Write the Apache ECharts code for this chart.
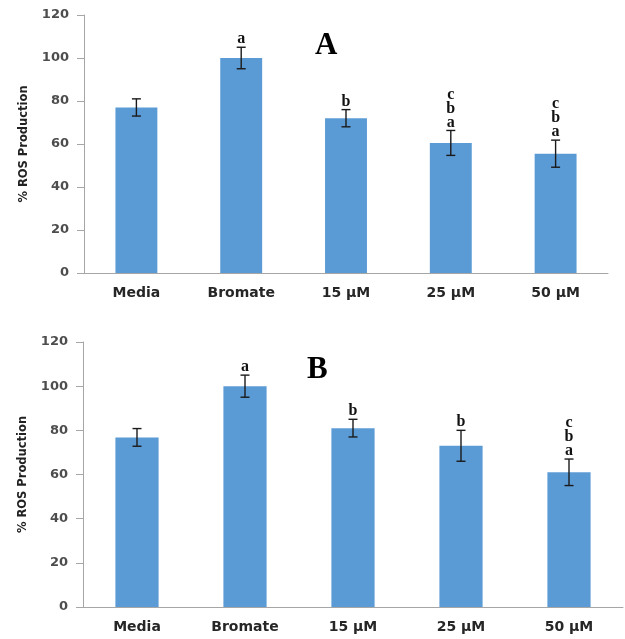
<!DOCTYPE html>
<html>
<head>
<meta charset="utf-8">
<script src="https://cdn.jsdelivr.net/npm/echarts@6/dist/echarts.min.js"></script>
<style>html,body{margin:0;padding:0;background:#fff;}#c{width:625px;height:639px;}</style>
</head>
<body>
<div id="c"></div>
<script>
const categories = ['Media', 'Bromate', '15 µM', '25 µM', '50 µM'];
const valuesA = [77, 100, 72, 60.5, 55.5];
const errorsA = [4, 5, 4, 5.8, 6.3];
const lettersA = ['', 'a', 'b', 'c\nb\na', 'c\nb\na'];
const valuesB = [76.8, 100, 81, 73, 61];
const errorsB = [4, 5, 4, 7, 6];
const lettersB = ['', 'a', 'b', 'b', 'c\nb\na'];
const yMin = 0, yMax = 120, yStep = 20;
const yTitle = '% ROS Production';
const panelTitles = ['A', 'B'];

const chart = echarts.init(document.getElementById('c'), null, {renderer: 'canvas'});
const axisGray = '#a6a6a6';
const sansFont = 'DejaVu Sans';

function errSeries(idx, vals, errs, letters) {
  return {
    type: 'custom', xAxisIndex: idx, yAxisIndex: idx, clip: false, z: 5,
    data: vals.map((v, i) => [i, v, errs[i]]),
    renderItem: function (params, api) {
      const x = api.value(0), v = api.value(1), e = api.value(2);
      const top = api.coord([x, v + e]);
      const bot = api.coord([x, v - e]);
      const cap = 4.5;
      const st = {stroke: '#1a1a1a', lineWidth: 1.4};
      const children = [
        {type: 'line', shape: {x1: top[0], y1: top[1], x2: bot[0], y2: bot[1]}, style: st},
        {type: 'line', shape: {x1: top[0] - cap, y1: top[1], x2: top[0] + cap, y2: top[1]}, style: st},
        {type: 'line', shape: {x1: bot[0] - cap, y1: bot[1], x2: bot[0] + cap, y2: bot[1]}, style: st}
      ];
      const lab = letters[params.dataIndex];
      if (lab) {
        children.push({type: 'text', style: {
          text: lab, x: top[0], y: top[1] - 1, align: 'center', verticalAlign: 'bottom',
          fontFamily: 'Liberation Serif', fontWeight: 'bold', fontSize: 16, lineHeight: 14, fill: '#111'
        }});
      }
      return {type: 'group', children: children};
    }
  };
}

function mkY(idx) {
  return {
    type: 'value', gridIndex: idx, min: yMin, max: yMax, interval: yStep,
    name: yTitle, nameLocation: 'middle', nameGap: 54, nameRotate: 90,
    nameTextStyle: {fontFamily: sansFont, fontWeight: 'bold', fontSize: 11.5, color: '#222'},
    axisLine: {show: true, lineStyle: {color: axisGray, width: 1}},
    axisTick: {show: true, length: 7, lineStyle: {color: axisGray}},
    axisLabel: {fontFamily: sansFont, fontWeight: 'bold', fontSize: 13, color: '#4d4d4d', margin: 15},
    splitLine: {show: false}
  };
}
function mkX(idx) {
  return {
    type: 'category', gridIndex: idx, data: categories,
    axisLine: {show: true, lineStyle: {color: axisGray, width: 1}},
    axisTick: {show: false},
    axisLabel: {fontFamily: sansFont, fontWeight: 'bold', fontSize: 14, color: '#262626', margin: 13, interval: 0}
  };
}

chart.setOption({
  animation: false,
  backgroundColor: '#fff',
  title: [
    {text: panelTitles[0], left: 310, top: 25, textStyle: {fontFamily: 'Liberation Serif', fontWeight: 'bold', fontSize: 31, color: '#000'}},
    {text: panelTitles[1], left: 302, top: 349, textStyle: {fontFamily: 'Liberation Serif', fontWeight: 'bold', fontSize: 31, color: '#000'}}
  ],
  grid: [
    {left: 84, top: 15, right: 17, bottom: 366},
    {left: 83, top: 342, right: 2, bottom: 32}
  ],
  xAxis: [mkX(0), mkX(1)],
  yAxis: [mkY(0), mkY(1)],
  series: [
    {type: 'bar', xAxisIndex: 0, yAxisIndex: 0, data: valuesA, barWidth: '40%', itemStyle: {color: '#5b9bd5'}},
    {type: 'bar', xAxisIndex: 1, yAxisIndex: 1, data: valuesB, barWidth: '40%', itemStyle: {color: '#5b9bd5'}},
    errSeries(0, valuesA, errorsA, lettersA),
    errSeries(1, valuesB, errorsB, lettersB)
  ]
});
</script>
</body>
</html>
